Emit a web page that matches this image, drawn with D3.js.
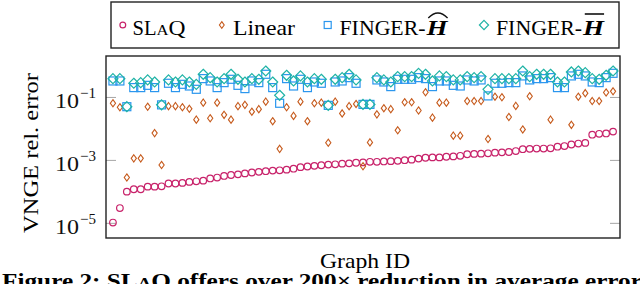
<!DOCTYPE html>
<html>
<head>
<meta charset="utf-8">
<script src="https://cdn.jsdelivr.net/npm/d3@7"></script>
<style>
  body { margin: 0; background: #fff; }
  svg { display: block; font-family: "Liberation Serif", serif; }
</style>
</head>
<body>
<svg id="chart" width="640" height="284"></svg>
<script>
// VNGE relative error per graph (sorted by SLaQ error)
const slaq = [1.02e-5, 2.95e-5, 9.8e-5, 1.17e-4, 1.17e-4, 1.41e-4, 1.41e-4, 1.45e-4, 1.78e-4, 1.78e-4,
  1.86e-4, 2.0e-4, 2.09e-4, 2.19e-4, 2.57e-4, 2.75e-4, 3.09e-4, 3.31e-4, 3.47e-4, 3.72e-4,
  3.98e-4, 4.17e-4, 4.37e-4, 4.57e-4, 4.68e-4, 4.90e-4, 5.25e-4, 5.89e-4, 6.17e-4, 6.46e-4,
  6.76e-4, 7.08e-4, 7.24e-4, 7.59e-4, 7.76e-4, 8.13e-4, 8.32e-4, 8.71e-4, 8.71e-4, 8.91e-4,
  9.12e-4, 9.33e-4, 9.77e-4, 1.02e-3, 1.10e-3, 1.17e-3, 1.20e-3, 1.20e-3, 1.26e-3, 1.29e-3,
  1.35e-3, 1.51e-3, 1.55e-3, 1.58e-3, 1.62e-3, 1.70e-3, 1.74e-3, 1.78e-3, 1.91e-3, 2.19e-3,
  2.24e-3, 2.29e-3, 2.29e-3, 2.34e-3, 2.63e-3, 2.75e-3, 3.09e-3, 3.31e-3, 3.47e-3, 6.31e-3,
  6.76e-3, 6.92e-3, 7.94e-3];

const linear = [0.063, 0.047, 2.75e-4, 1.12e-3, 1.12e-3, 0.049, 7.1e-3, 6.9e-4, 0.051, 0.051,
  0.047, 0.042, 0.019, 0.066, 0.021, 0.066, 0.027, 0.019, 0.051, 0.056,
  0.034, 0.041, 0.071, 0.017, 2.24e-3, 0.047, 0.025, 0.071, 0.017, 0.063,
  0.066, 3.5e-3, 0.071, 0.030, 0.051, 0.060, 6.3e-4, 3.6e-3, 0.028, 0.044,
  0.041, 8.7e-3, 0.068, 0.068, 0.037, 0.141, 0.022, 0.066, 0.066, 5.9e-3,
  5.9e-3, 0.074, 0.074, 0.074, 4.6e-3, 0.102, 0.098, 0.023, 0.052, 9.3e-3,
  0.105, null, null, 0.019, null, null, 0.013, 0.102, 0.132, 0.074,
  0.074, 0.138, 0.151];

const fingerHat = [0.322, 0.322, 0.049, 0.198, 0.198, 0.234, 0.198, 0.056, 0.272, 0.198,
  0.252, 0.223, 0.175, 0.382, 0.322, 0.198, 0.285, 0.364, 0.234, 0.184,
  0.322, 0.285, 0.525, 0.198, 0.063, 0.382, 0.223, 0.364, 0.198, 0.299,
  0.272, 0.054, 0.299, 0.322, 0.411, 0.272, 0.058, 0.058, 0.347, 0.299,
  0.213, 0.364, 0.364, 0.364, 0.411, 0.382, 0.213, 0.322, 0.322, 0.234,
  0.223, 0.347, 0.322, 0.347, 0.108, 0.272, 0.272, 0.285, 0.285, 0.465,
  0.347, 0.382, 0.382, 0.411, 0.198, 0.198, 0.465, 0.525, 0.465, 0.299,
  0.285, 0.411, 0.564];

const fingerBar = [0.382, 0.382, 0.049, 0.272, 0.285, 0.347, 0.299, 0.056, 0.347, 0.299,
  0.347, 0.299, 0.252, 0.525, 0.411, 0.299, 0.382, 0.525, 0.364, 0.299,
  0.382, 0.364, 0.668, 0.299, 0.113, 0.488, 0.322, 0.465, 0.299, 0.382,
  0.364, 0.054, 0.364, 0.411, 0.525, 0.347, 0.058, 0.058, 0.411, 0.347,
  0.299, 0.443, 0.443, 0.443, 0.564, 0.525, 0.322, 0.465, 0.443, 0.347,
  0.347, 0.443, 0.411, 0.443, 0.175, 0.382, 0.382, 0.382, 0.382, 0.668,
  0.443, 0.525, 0.525, 0.525, 0.299, 0.299, 0.622, 0.668, 0.592, 0.382,
  0.364, 0.488, 0.668];

const yTicks = [1e-5, 1e-3, 1e-1];

const W = 640, H = 284, m = { t: 56, r: 20, b: 46, l: 106 };
const svg = d3.select('#chart');

const x = d3.scaleLinear().domain([-1, slaq.length]).range([m.l, W - m.r]);
const y = d3.scaleLog().domain([3.3e-6, 2]).range([H - m.b, m.t]);

// colores
const cSlaq = '#c8226a', cLin = '#c65a1c', cHat = '#2a96ee', cBar = '#1fb3a6';

// ticks a ambos lados (hacia dentro)
const left = svg.append('g').attr('transform', `translate(${m.l},0)`)
  .call(d3.axisLeft(y).tickValues(yTicks).tickSize(-10).tickFormat(''));
const right = svg.append('g').attr('transform', `translate(${W - m.r},0)`)
  .call(d3.axisRight(y).tickValues(yTicks).tickSize(-10).tickFormat(''));
[left, right].forEach(g => {
  g.select('.domain').remove();
  g.selectAll('line').attr('stroke', '#a6a6a6').attr('stroke-width', 1);
});

// etiquetas 10^k
yTicks.forEach(v => {
  const t = svg.append('text').attr('x', 96).attr('y', y(v) + 11)
    .attr('text-anchor', 'end').attr('font-size', 21).attr('fill', '#111');
  t.append('tspan').attr('textLength', 24).attr('lengthAdjust', 'spacingAndGlyphs').text('10');
  t.append('tspan').attr('dx', 1).attr('dy', -10).attr('font-size', 15).text('\u2212' + Math.round(-Math.log10(v)));
});

const diamond = (w, h) => `M0,${-h}L${w},0L0,${h}L${-w},0Z`;

// series
const plot = svg.append('g');
plot.selectAll('.slaq').data(slaq).enter().append('circle')
  .attr('cx', (d, i) => x(i)).attr('cy', d => y(d)).attr('r', 3.3)
  .attr('fill', 'none').attr('stroke', cSlaq).attr('stroke-width', 1.2);

plot.selectAll('.lin').data(linear.map((d, i) => [i, d]).filter(p => p[1] != null)).enter().append('path')
  .attr('d', diamond(2.6, 3.6))
  .attr('transform', p => `translate(${x(p[0])},${y(p[1])})`)
  .attr('fill', 'none').attr('stroke', cLin).attr('stroke-width', 1.1);

plot.selectAll('.hat').data(fingerHat).enter().append('rect')
  .attr('x', (d, i) => x(i) - 4).attr('y', d => y(d) - 4).attr('width', 8).attr('height', 8)
  .attr('fill', 'none').attr('stroke', cHat).attr('stroke-width', 1.2);

plot.selectAll('.bar').data(fingerBar).enter().append('path')
  .attr('d', diamond(5, 5))
  .attr('transform', (d, i) => `translate(${x(i)},${y(d)})`)
  .attr('fill', 'none').attr('stroke', cBar).attr('stroke-width', 1.2);

// marco
svg.append('rect').attr('x', m.l).attr('y', m.t)
  .attr('width', W - m.r - m.l).attr('height', H - m.b - m.t)
  .attr('fill', 'none').attr('stroke', '#222').attr('stroke-width', 1.4);

// leyenda
const lg = svg.append('g');
lg.append('rect').attr('x', 111).attr('y', 2).attr('width', 508).attr('height', 46)
  .attr('fill', '#fff').attr('stroke', '#222').attr('stroke-width', 1.4);
const ly = 25, lb = 35;
const fit = (sel, len) => sel.attr('textLength', len).attr('lengthAdjust', 'spacingAndGlyphs');

lg.append('circle').attr('cx', 122.8).attr('cy', ly).attr('r', 2.9)
  .attr('fill', 'none').attr('stroke', cSlaq).attr('stroke-width', 1.2);
const t1 = lg.append('text').attr('x', 132.5).attr('y', lb).attr('font-size', 21);
t1.append('tspan').call(fit, 24).text('SL');
t1.append('tspan').attr('font-size', 15.5).call(fit, 12).text('A');
t1.append('tspan').call(fit, 17).text('Q');

lg.append('path').attr('d', diamond(2.4, 3.4)).attr('transform', `translate(221.8,${ly})`)
  .attr('fill', 'none').attr('stroke', cLin).attr('stroke-width', 1.1);
lg.append('text').attr('x', 233).attr('y', lb).attr('font-size', 21).call(fit, 62).text('Linear');

lg.append('rect').attr('x', 327.7 - 3.5).attr('y', ly - 3.5).attr('width', 7).attr('height', 7)
  .attr('fill', 'none').attr('stroke', cHat).attr('stroke-width', 1.2);
lg.append('path').attr('d', diamond(4.6, 4.6)).attr('transform', `translate(484,${ly})`)
  .attr('fill', 'none').attr('stroke', cBar).attr('stroke-width', 1.2);

function fingerLabel(x0, accent) {
  const w = 86;
  lg.append('text').attr('x', x0).attr('y', lb).attr('font-size', 21).call(fit, w).text('FINGER-');
  const h = lg.append('text').attr('x', x0 + w + 1).attr('y', lb).attr('font-size', 22)
    .attr('font-weight', 'bold').attr('font-style', 'italic').call(fit, 21).text('H');
  const bb = h.node().getBBox();
  const a0 = bb.x + 3, a1 = bb.x + bb.width - 1, top = 19;
  if (accent === 'hat') {
    lg.append('path').attr('d', `M${a0},${top - 1}Q${(a0 + a1) / 2},${top - 11} ${a1},${top - 1}`)
      .attr('fill', 'none').attr('stroke', '#111').attr('stroke-width', 1.3);
  } else {
    lg.append('line').attr('x1', a0).attr('x2', a1).attr('y1', top - 5).attr('y2', top - 5)
      .attr('stroke', '#111').attr('stroke-width', 1.6);
  }
}
fingerLabel(339.5, 'hat');
fingerLabel(496, 'bar');

// ejes: títulos
svg.append('text').attr('transform', 'translate(38,153) rotate(-90)')
  .attr('text-anchor', 'middle').attr('font-size', 21).call(fit, 160).text('VNGE rel. error');
svg.append('text').attr('x', 365).attr('y', 268)
  .attr('text-anchor', 'middle').attr('font-size', 21).call(fit, 90).text('Graph ID');

// pie de figura (cortado abajo)
const cap = svg.append('text').attr('x', 2).attr('y', 288).attr('font-size', 21)
  .attr('font-weight', 'bold').call(fit, 640);
cap.append('tspan').text('Figure 2: SL');
cap.append('tspan').attr('font-size', 15.5).text('A');
cap.append('tspan').text('Q offers over 200\u00d7 reduction in average error');
</script>
</body>
</html>
